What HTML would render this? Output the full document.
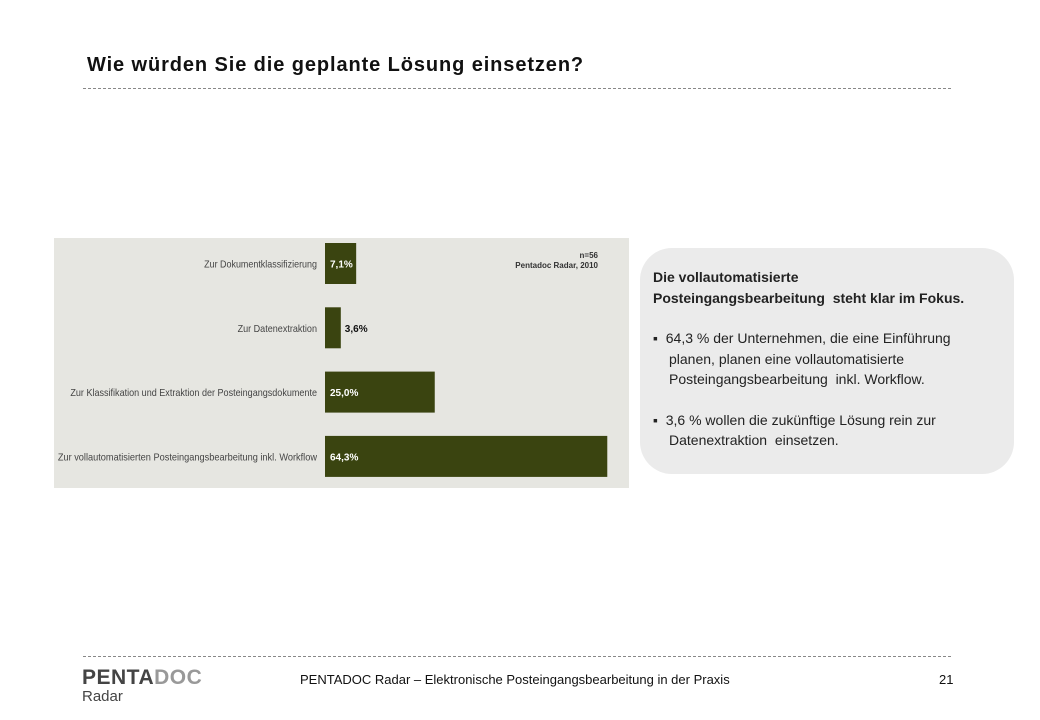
<!DOCTYPE html>
<html><head><meta charset="utf-8"><style>
body{margin:0;width:1040px;height:720px;background:#fff;position:relative;font-family:"Liberation Sans",sans-serif;overflow:hidden}
.abs{position:absolute}
.dash{position:absolute;left:83px;width:868px;border-top:1px dashed #888}
</style></head><body>
<div class="abs" style="left:87px;top:54px;font-size:20px;letter-spacing:0.9px;font-weight:bold;color:#111">Wie würden Sie die geplante Lösung einsetzen?</div>
<div class="dash" style="top:88px"></div>
<svg class="abs" style="left:0;top:0" width="1040" height="720">
<rect x="54" y="238" width="575" height="250" fill="#e6e6e1"/>
<text x="598" y="258" font-size="8" font-weight="bold" text-anchor="end" fill="#333">n=56</text>
<text x="598" y="268" font-size="8" font-weight="bold" text-anchor="end" fill="#333">Pentadoc Radar, 2010</text>
<g id="bars"></g>
</svg>
<div class="abs" style="left:640px;top:248px;width:374px;height:226px;background:#ebebeb;border-radius:32px"></div>
<div class="abs" style="left:653px;top:267px;width:340px;font-size:14px;line-height:20.5px;color:#222">
<div style="font-weight:bold">Die vollautomatisierte<br>Posteingangsbearbeitung&nbsp; steht klar im Fokus.</div>
<div style="margin-top:20px;padding-left:16px;text-indent:-16px">▪&nbsp; 64,3 % der Unternehmen, die eine Einführung planen, planen eine vollautomatisierte Posteingangsbearbeitung&nbsp; inkl. Workflow.</div>
<div style="margin-top:20px;padding-left:16px;text-indent:-16px">▪&nbsp; 3,6 % wollen die zukünftige Lösung rein zur Datenextraktion&nbsp; einsetzen.</div>
</div>
<div class="dash" style="top:656px"></div>
<div class="abs" style="left:82px;top:666px;font-size:21px;font-weight:900;color:#444;letter-spacing:0.5px">PENTA<span style="color:#999">DOC</span></div>
<div class="abs" style="left:82px;top:688px;font-size:15px;color:#444">Radar</div>
<div class="abs" style="left:300px;top:672px;font-size:13px;color:#111">PENTADOC Radar – Elektronische Posteingangsbearbeitung in der Praxis</div>
<div class="abs" style="left:939px;top:672px;font-size:13px;color:#111">21</div>
<script>
const categories=["Zur Dokumentklassifizierung","Zur Datenextraktion","Zur Klassifikation und Extraktion der Posteingangsdokumente","Zur vollautomatisierten Posteingangsbearbeitung inkl. Workflow"];
const values=[7.1,3.6,25.0,64.3];
const valueLabels=["7,1%","3,6%","25,0%","64,3%"];
const x0=325,pxPer=4.39,y0=243,pitch=64.3,bh=41;
const xs=v=>x0+v*pxPer, ys=i=>y0+i*pitch;
const g=document.getElementById('bars'),NS="http://www.w3.org/2000/svg";
values.forEach((v,i)=>{
 const r=document.createElementNS(NS,'rect');
 r.setAttribute('x',x0);r.setAttribute('y',ys(i));r.setAttribute('width',xs(v)-x0);r.setAttribute('height',bh);r.setAttribute('fill','#3a4410');
 
 
 g.appendChild(r);
 const t=document.createElementNS(NS,'text');
 t.setAttribute('x',x0-8);t.setAttribute('y',ys(i)+bh/2+4);t.setAttribute('text-anchor','end');t.setAttribute('font-size','10.5');t.setAttribute('fill','#444');t.setAttribute('textLength',categories[i].length*4.18);t.setAttribute('lengthAdjust','spacingAndGlyphs');
 t.textContent=categories[i];
 
 
 g.appendChild(t);
 const inside=(xs(v)-x0)>25;
 const l=document.createElementNS(NS,'text');
 l.setAttribute('x',inside?x0+5:xs(v)+4);l.setAttribute('y',ys(i)+bh/2+4);l.setAttribute('font-size','10');l.setAttribute('font-weight','bold');l.setAttribute('fill',inside?'#fff':'#111');
 l.textContent=valueLabels[i];
 
 
 g.appendChild(l);
});
</script>
</body></html>
